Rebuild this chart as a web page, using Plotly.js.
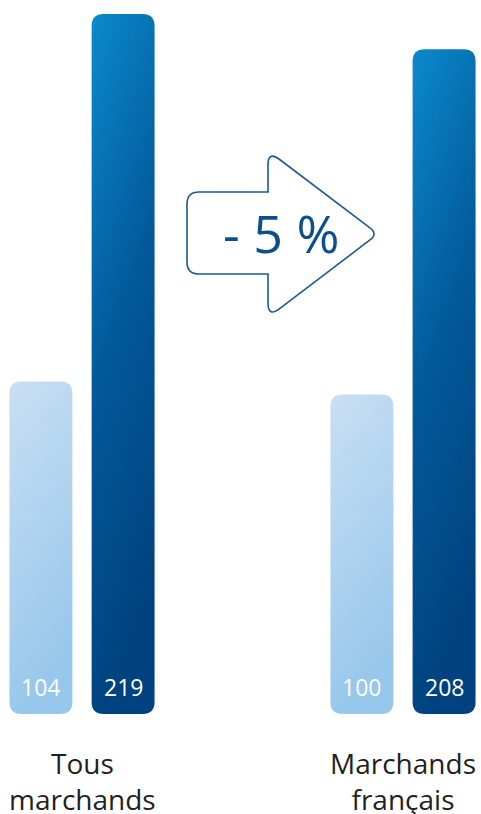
<!DOCTYPE html>
<html>
<head>
<meta charset="utf-8">
<script src="https://cdn.plot.ly/plotly-3.0.1.min.js"></script>
<style>
  html, body { margin: 0; padding: 0; background: #ffffff; }
  #chart { width: 481px; height: 814px; }
</style>
</head>
<body>
<div id="chart"></div>
<script>
// ---- data ----
const categories = ['Tous<br>marchands', 'Marchands<br>français'];
const seriesLight = [104, 100];
const seriesDark = [219, 208];
const changeLabel = '- 5 %';

// ---- style ----
const FONT = 'Open Sans, Noto Sans, sans-serif';
const bargap = 0.488;
const bargroupgap = 0.234;
const slot = (1 - bargap) / 2;

const data = [
  { type: 'bar', x: categories, y: seriesLight, marker: { color: '#aed2ee' },
    textposition: 'none', hoverinfo: 'none' },
  { type: 'bar', x: categories, y: seriesDark, marker: { color: '#035a9b' },
    textposition: 'none', hoverinfo: 'none' }
];

const annotations = [];
categories.forEach((c, i) => {
  [[seriesLight, -1], [seriesDark, 1]].forEach(([s, sign]) => {
    annotations.push({
      x: i + sign * slot / 2, y: 0, xref: 'x', yref: 'y',
      text: String(s[i]), showarrow: false,
      yanchor: 'middle', yshift: 27,
      font: { family: FONT, size: 23, color: '#ffffff' }
    });
  });
  annotations.push({
    x: c, y: 0, xref: 'x', yref: 'paper',
    text: c, showarrow: false, yanchor: 'top', yshift: -28,
    font: { family: FONT, size: 28, color: '#231f20' }
  });
});

// arrow decoration (pixel -> paper)
const W = 481, H = 714;
function P(x, y) { return (x / W).toFixed(4) + ',' + (1 - y / H).toFixed(4); }
const arrowPath =
  'M ' + P(199, 192) + ' L ' + P(268, 192) + ' L ' + P(268, 165) +
  ' Q ' + P(268, 151) + ' ' + P(279, 159) +
  ' L ' + P(370, 228) + ' Q ' + P(378, 234) + ' ' + P(370, 240) +
  ' L ' + P(279, 309) + ' Q ' + P(268, 317) + ' ' + P(268, 303) +
  ' L ' + P(268, 274) + ' L ' + P(199, 274) +
  ' Q ' + P(187, 274) + ' ' + P(187, 262) +
  ' L ' + P(187, 204) + ' Q ' + P(187, 192) + ' ' + P(199, 192) + ' Z';

annotations.push({
  x: 281 / W, y: 1 - 233 / H, xref: 'paper', yref: 'paper',
  text: changeLabel, showarrow: false, xanchor: 'center', yanchor: 'middle',
  font: { family: FONT, size: 52, color: '#0b4f8c' }
});

const layout = {
  width: 481, height: 814,
  margin: { l: 0, r: 0, t: 0, b: 100 },
  paper_bgcolor: '#ffffff', plot_bgcolor: '#ffffff',
  barmode: 'group', bargap: bargap, bargroupgap: bargroupgap,
  showlegend: false,
  xaxis: { type: 'category', range: [-0.2555, 1.243], showticklabels: false,
           showgrid: false, zeroline: false, showline: false, ticks: '' },
  yaxis: { range: [0, 223.4], showticklabels: false, showgrid: false,
           zeroline: false, showline: false, ticks: '' },
  shapes: [{ type: 'path', xref: 'paper', yref: 'paper', path: arrowPath,
             line: { color: '#1a5a96', width: 1.6 }, fillcolor: 'rgba(255,255,255,0)' }],
  annotations: annotations
};

const gd = document.getElementById('chart');
Plotly.newPlot(gd, data, layout, { staticPlot: true, displayModeBar: false }).then(() => {
  const ns = 'http://www.w3.org/2000/svg';
  const svg = gd.querySelector('.main-svg');
  let defs = svg.querySelector('defs');
  if (!defs) { defs = document.createElementNS(ns, 'defs'); svg.insertBefore(defs, svg.firstChild); }
  function grad(id, stops) {
    const g = document.createElementNS(ns, 'linearGradient');
    g.setAttribute('id', id);
    g.setAttribute('x1', '0'); g.setAttribute('y1', '0');
    g.setAttribute('x2', '0.25'); g.setAttribute('y2', '1');
    stops.forEach(([o, c]) => {
      const s = document.createElementNS(ns, 'stop');
      s.setAttribute('offset', o); s.setAttribute('stop-color', c);
      g.appendChild(s);
    });
    defs.appendChild(g);
  }
  grad('gLight', [['0', '#c9dff3'], ['1', '#97c7eb']]);
  grad('gDark', [['0', '#0b8acb'], ['0.5', '#035a9b'], ['1', '#00427f']]);
  const ids = ['gLight', 'gDark'];
  gd.querySelectorAll('.barlayer .trace').forEach((t, i) => {
    t.querySelectorAll('.point path').forEach(p => {
      const b = p.getBBox();
      const r = Math.min(12, b.width / 2);
      const x0 = b.x, y0 = b.y, x1 = b.x + b.width, y1 = b.y + b.height;
      const d = `M${x0 + r},${y0} L${x1 - r},${y0} Q${x1},${y0} ${x1},${y0 + r} ` +
                `L${x1},${y1 - r} Q${x1},${y1} ${x1 - r},${y1} L${x0 + r},${y1} ` +
                `Q${x0},${y1} ${x0},${y1 - r} L${x0},${y0 + r} Q${x0},${y0} ${x0 + r},${y0} Z`;
      p.setAttribute('d', d);
      p.style.fill = `url(#${ids[i]})`;
    });
  });
});
</script>
</body>
</html>
